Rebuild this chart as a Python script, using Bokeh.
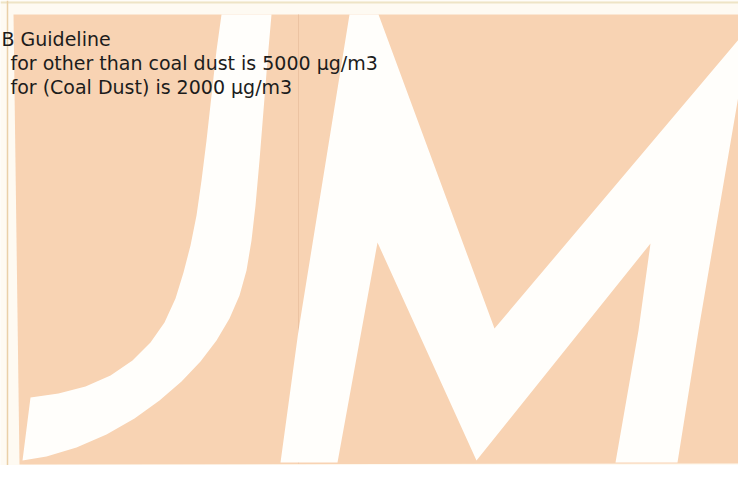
from bokeh.plotting import figure
from bokeh.models import Range1d, ColumnDataSource
from bokeh.core.properties import value
from bokeh.embed import file_html
from bokeh.resources import INLINE

# ---- content (pixel space of the scanned page) ----
text_lines = ["B Guideline",
              "for other than coal dust is 5000 \u00b5g/m3",
              "for (Coal Dust) is 2000 \u00b5g/m3"]
text_x = [1, 10, 10]
text_y = [38, 62, 86]

# peach panel of the scanned page
panel_x = [13, 760, 760, 19]
panel_y = [14, 14, 463, 464]

# faint scan lines
grid_x = [298, 298]
grid_y = [14, 463]
edge_x = [7, 7]
edge_y = [0, 470]
top_x = [0, 760]
top_y = [2, 2]

# "J" watermark outline
j_x = [271, 267, 263, 259, 255, 251, 246, 239, 229, 216, 200, 181, 159, 134, 106, 76, 46, 22,
       30, 58, 85, 110, 132, 150, 164, 175, 183, 190, 196, 201, 206, 211, 216, 221]
j_y = [14, 60, 110, 160, 205, 240, 270, 295, 318, 340, 361, 381, 400, 418, 434, 447, 456, 460,
       397, 393, 386, 375, 360, 342, 322, 298, 272, 245, 215, 180, 140, 95, 50, 14]

# "M" watermark outline
m_x = [349, 378, 494, 750, 698, 677, 615, 638, 650, 476, 377, 337, 280, 298]
m_y = [14, 14, 328, 25, 330, 462, 462, 330, 243, 460, 242, 462, 462, 330]

CREAM = "#fefaf2"
PEACH = "#f8d3b3"
WHITE = "#fffefb"

p = figure(width=738, height=465, output_backend="svg", toolbar_location=None,
           x_range=Range1d(0, 738), y_range=Range1d(465, 0),
           x_axis_type=None, y_axis_type=None, min_border=0)
p.grid.visible = False
p.outline_line_color = None
p.background_fill_color = CREAM
p.border_fill_color = CREAM

p.line(top_x, top_y, line_color="#eee4c6", line_width=2)
p.line(edge_x, edge_y, line_color="#ead0a8", line_width=1.5)
p.patch(panel_x, panel_y, fill_color=PEACH, line_color=None)
p.line(grid_x, grid_y, line_color="#ecc3a2", line_width=1)
p.patch(j_x, j_y, fill_color=WHITE, line_color=None)
p.patch(m_x, m_y, fill_color=WHITE, line_color=None)

src = ColumnDataSource(dict(x=text_x, y=text_y, t=text_lines))
p.text(x="x", y="y", text="t", source=src, text_font=value("DejaVu Sans"),
       text_font_size="19px", text_color="#1c1c1c", text_baseline="alphabetic",
       text_align="left")

open("out.html", "w").write(file_html(p, INLINE))
